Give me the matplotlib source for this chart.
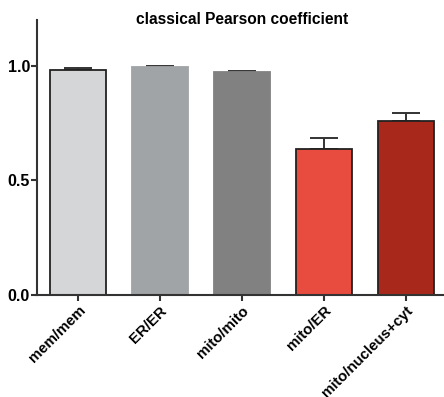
import matplotlib
matplotlib.use("Agg")
import matplotlib.pyplot as plt
import numpy as np

categories = ["mem/mem", "ER/ER", "mito/mito", "mito/ER", "mito/nucleus+cyt"]
values = [0.983, 0.995, 0.974, 0.638, 0.760]
errors = [0.008, 0.003, 0.005, 0.048, 0.035]
colors = ["#d4d6d7", "#a0a4a7", "#808180", "#e84c3f", "#a8291c"]
edges = ["#222222", "#a0a4a7", "#808180", "#222222", "#222222"]
yticks = [0.0, 0.5, 1.0]
title = "classical Pearson coefficient"

plt.rcParams['font.family'] = ['Liberation Sans', 'DejaVu Sans']
fig = plt.figure(figsize=(4.44, 3.97), dpi=100)
ax = fig.add_axes([37/444, 1-295/397, 406/444, 275/397])

x = np.arange(len(categories))
ax.bar(x, values, width=0.675, color=colors, edgecolor=edges, linewidth=1.3, zorder=2)
ax.errorbar(x, values, yerr=[np.zeros(len(errors)), errors], fmt='none',
            ecolor="#333333", elinewidth=1.4, capsize=10, capthick=1.4, zorder=1)

ax.set_xlim(-0.5, 4.45)
ax.set_ylim(0, 1.2)
ax.set_yticks(yticks)
ax.set_yticklabels([f"{v:.1f}" for v in yticks], fontsize=11.5, fontweight='bold')
ax.set_xticks(x)
ax.set_xticklabels(categories, rotation=45, ha='right', rotation_mode='anchor',
                   fontsize=10.8, fontweight='bold')
for s in ['top', 'right']:
    ax.spines[s].set_visible(False)
for s in ['left', 'bottom']:
    ax.spines[s].set_linewidth(1.5)
    ax.spines[s].set_color("#333333")
ax.tick_params(axis='both', direction='out', length=4, width=1.5, color="#333333", pad=2)
ax.tick_params(axis='y', pad=1)

fig.text(242/444, 1-20/397, title, ha='center', va='center', fontsize=11.2, fontweight='bold')
fig.savefig("out.png", dpi=100)
